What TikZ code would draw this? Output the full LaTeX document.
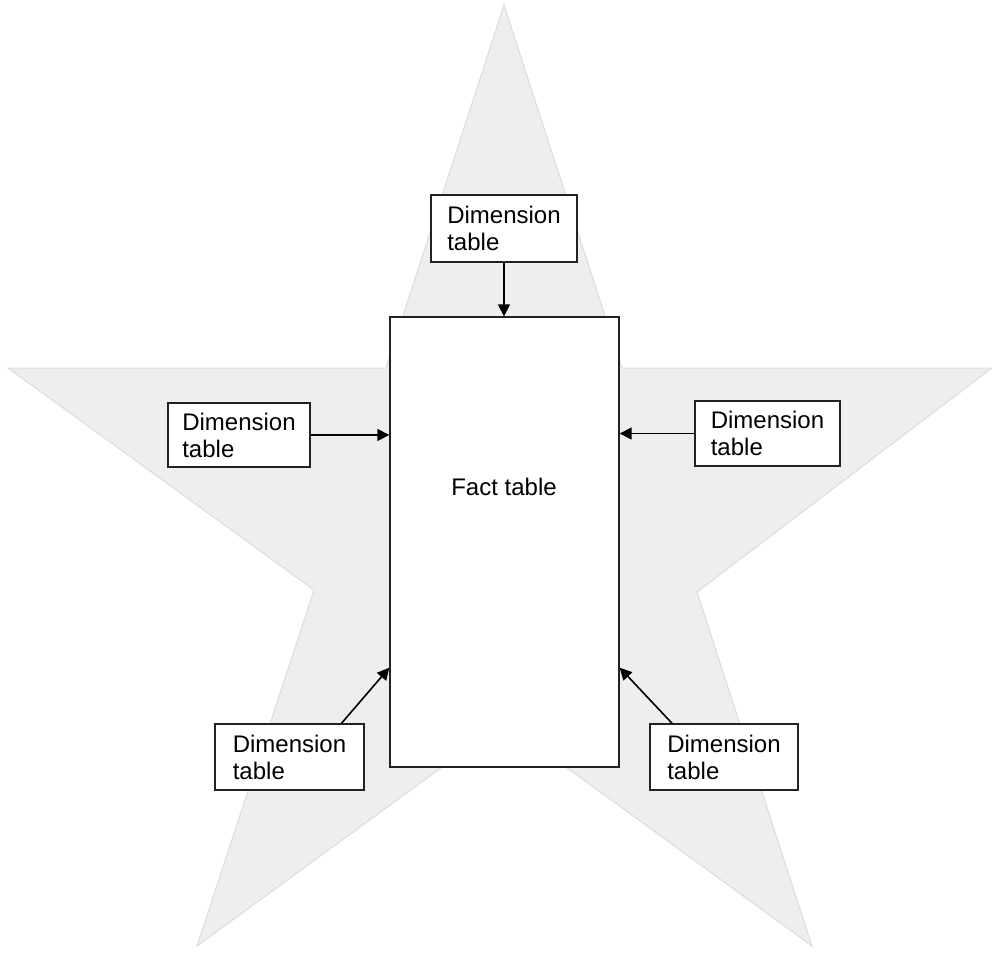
\documentclass[tikz,border=0pt]{standalone}
\usepackage{fontspec}
\setmainfont{Liberation Sans}
\usetikzlibrary{arrows.meta,calc}
\definecolor{starfill}{HTML}{EEEEEE}
\definecolor{starline}{HTML}{DCDCDC}
\definecolor{boxline}{HTML}{222222}
\begin{document}
\begin{tikzpicture}[x=1pt,y=-1pt,
  dimbox/.style={draw=boxline,line width=1.4pt,fill=white,align=left,inner sep=0pt,
    font=\fontsize{24}{27}\selectfont},
  factbox/.style={draw=boxline,line width=1.4pt,fill=white,inner sep=0pt},
  conn/.style={draw=black,line width=1.6pt,-{Triangle[length=12pt,width=12pt]}},
  txt/.style={font=\fontsize{24}{27}\selectfont,inner sep=0pt}]
\useasboundingbox (0,0) rectangle (992,955);
% star background
\fill[starfill,draw=starline,line width=1pt] (504,5) -- (622,368) -- (992,368) -- (697,592) -- (812,946) -- (504,722) -- (197,946) -- (314,590) -- (8,368) -- (386,368) -- cycle;
% fact table
\node[factbox,minimum width=229pt,minimum height=450pt] (fact) at (504.5,542) {};
\node[txt] (factlabel) at (504,487) {Fact table};
% dimension tables
\node[dimbox,minimum width=146pt,minimum height=67pt] (dtop) at (504,228.5) {Dimension\\table};
\node[dimbox,minimum width=142pt,minimum height=64pt] (dleft) at (239,435) {Dimension\\table};
\node[dimbox,minimum width=145pt,minimum height=65pt] (dright) at (767.5,433.5) {Dimension\\table};
\node[dimbox,minimum width=149pt,minimum height=66pt] (dbl) at (289.5,757) {Dimension\\table};
\node[dimbox,minimum width=148pt,minimum height=66pt] (dbr) at (724,757) {Dimension\\table};
% connector endpoints
\coordinate (blstart) at ($(dbl.north)+(52,0)$);
\coordinate (blend) at ($(fact.south west)+(0,-100)$);
\coordinate (brstart) at ($(dbr.north)+(-52,0)$);
\coordinate (brend) at ($(fact.south east)+(0,-100)$);
% connectors
\draw[conn] (dtop.south) -- (dtop.south |- fact.north);
\draw[conn] (dleft.east) -- (dleft.east -| fact.west);
\draw[conn] (dright.west) -- (dright.west -| fact.east);
\draw[conn] (blstart) -- (blend);
\draw[conn] (brstart) -- (brend);
\end{tikzpicture}
\end{document}
